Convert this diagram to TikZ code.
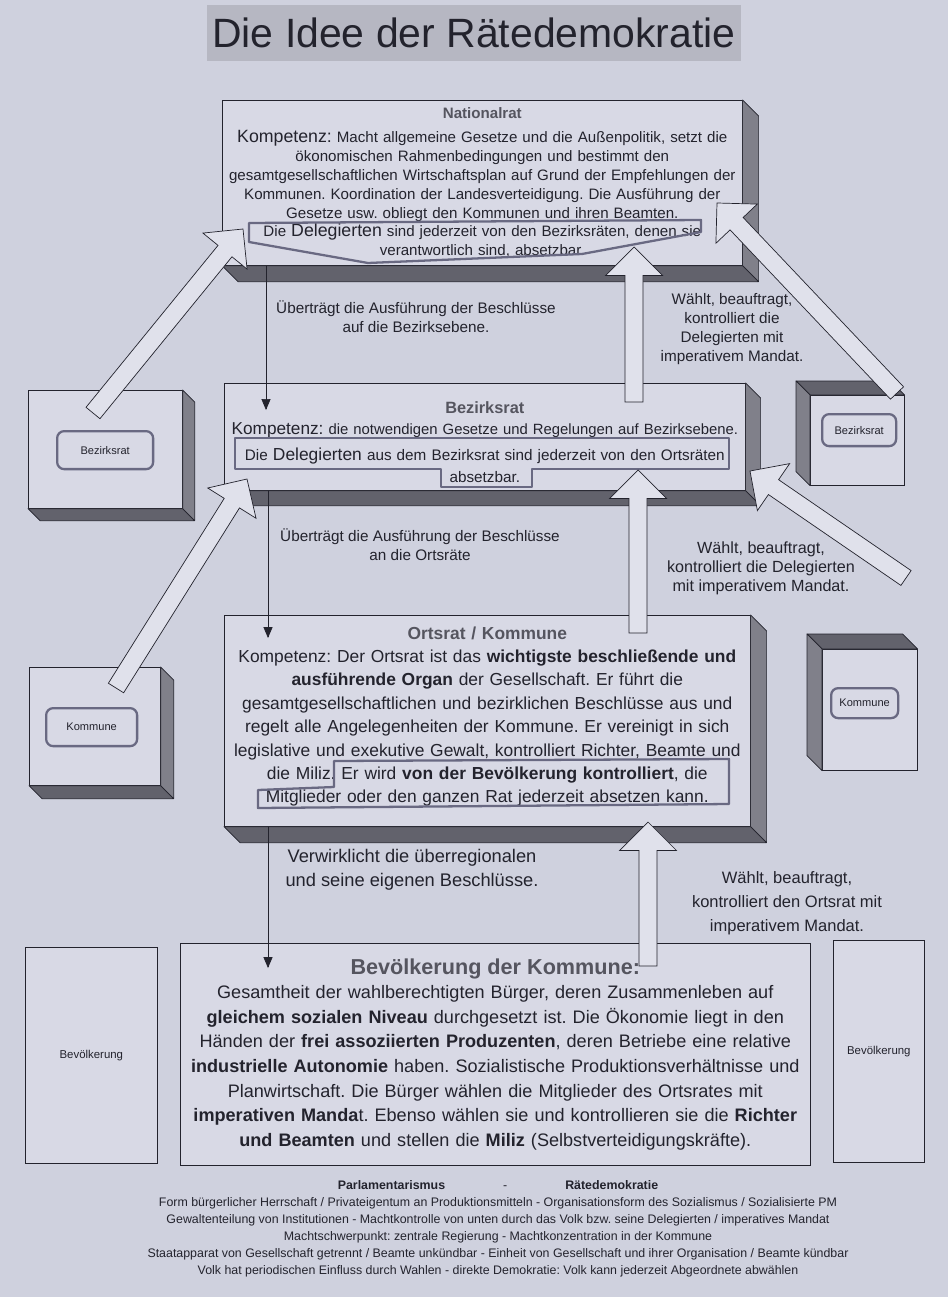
\documentclass[tikz,border=0pt]{standalone}
\usepackage{fontspec}
\setmainfont{Liberation Sans}
\usetikzlibrary{arrows, positioning, calc}

\definecolor{paper}{RGB}{207,209,222}
\definecolor{front}{RGB}{216,217,229}
\definecolor{arrowfill}{RGB}{224,225,235}
\definecolor{sideface}{RGB}{128,128,138}
\definecolor{floorface}{RGB}{98,98,108}
\definecolor{ink}{RGB}{35,35,45}
\definecolor{headgray}{RGB}{85,85,95}
\definecolor{frameline}{RGB}{105,105,130}
\definecolor{titlebg}{RGB}{182,183,194}

% 3D faces of the boxes
\newcommand{\depthdown}[2]{%
  \draw[faceR] (#1.north east) -- ++(#2,#2) -- ($(#1.south east)+(#2,#2)$) -- (#1.south east) -- cycle;
  \draw[faceB] (#1.south west) -- ++(#2,#2) -- ($(#1.south east)+(#2,#2)$) -- (#1.south east) -- cycle;}
\newcommand{\depthup}[2]{%
  \draw[faceB] (#1.north west) -- ++(-#2,-#2) -- ($(#1.north east)+(-#2,-#2)$) -- (#1.north east) -- cycle;
  \draw[faceR] (#1.north west) -- ++(-#2,-#2) -- ($(#1.south west)+(-#2,-#2)$) -- (#1.south west) -- cycle;}

\begin{document}
\frenchspacing
\begin{tikzpicture}[
    x=0.02cm, y=-0.02cm,
    council/.style={rectangle, draw=ink, fill=front, inner sep=0pt, anchor=north west, align=center, text=ink},
    sidebox/.style={rectangle, draw=ink, fill=front, inner sep=0pt, anchor=north west},
    chip/.style={rectangle, draw=frameline, line width=1.3pt, rounded corners=4pt, fill=front, inner sep=0pt, anchor=north west, text=ink, font=\fontsize{6.3}{7.5}\selectfont},
    faceR/.style={draw=ink, fill=sideface, line join=round},
    faceB/.style={draw=ink, fill=floorface, line join=round},
    note/.style={align=center, text=ink, font=\fontsize{8.7}{10.8}\selectfont},
    thinarrow/.style={->, >=triangle 45, draw=ink},
    highlight/.style={draw=frameline, line width=1.3pt, line join=round},
    bigarrow/.style={draw=ink, fill=arrowfill, line join=miter, to path={
        ($(\tikztostart)!0.18cm!-90:(\tikztotarget)$)
        -- ($(\tikztotarget)!0.57cm!(\tikztostart)!0.18cm!90:(\tikztostart)$)
        -- ($(\tikztotarget)!0.57cm!(\tikztostart)!0.57cm!90:(\tikztostart)$)
        -- (\tikztotarget)
        -- ($(\tikztotarget)!0.57cm!(\tikztostart)!0.57cm!-90:(\tikztostart)$)
        -- ($(\tikztotarget)!0.57cm!(\tikztostart)!0.18cm!-90:(\tikztostart)$)
        -- ($(\tikztostart)!0.18cm!90:(\tikztotarget)$) -- cycle}}
]

\useasboundingbox (0,0) rectangle (948,1297);
\fill[paper] (0,0) rectangle (948,1297);

% Title
\node[fill=titlebg, minimum width=10.7cm, minimum height=1.12cm, inner sep=0pt, text=ink, font=\fontsize{23.3}{26}\selectfont] (title) at (474,33) {Die Idee der Rätedemokratie};

% Nationalrat
\node[council, minimum width=10.4cm, minimum height=3.3cm, text width=10.4cm, font=\fontsize{8.6}{10.7}\selectfont] (nat) at (222,100) {%
  {\bfseries\color{headgray}Nationalrat}\\[3pt]
  {\fontsize{10.1}{10.7}\selectfont Kompetenz:} Macht allgemeine Gesetze und die Außenpolitik, setzt die\\
  ökonomischen Rahmenbedingungen und bestimmt den\\
  gesamtgesellschaftlichen Wirtschaftsplan auf Grund der Empfehlungen der\\
  Kommunen. Koordination der Landesverteidigung. Die Ausführung der\\
  Gesetze usw. obliegt den Kommunen und ihren Beamten.\\
  Die {\fontsize{10.1}{10.7}\selectfont Delegierten} sind jederzeit von den Bezirksräten, denen sie\\
  verantwortlich sind, absetzbar.};
\depthdown{nat}{16}

% Bezirksrat
\node[council, minimum width=10.42cm, minimum height=2.14cm, text width=10.42cm, font=\fontsize{8.7}{12.2}\selectfont] (bez) at (224,383) {%
  \rule{0pt}{12.5pt}{\bfseries\color{headgray}\fontsize{9.3}{12.2}\selectfont Bezirksrat}\\
  {\fontsize{9.8}{12.2}\selectfont Kompetenz:} {\fontsize{8.45}{12.2}\selectfont die notwendigen Gesetze und Regelungen auf Bezirksebene.}\\[2.5pt]
  Die {\fontsize{9.9}{12.2}\selectfont Delegierten} aus dem Bezirksrat sind jederzeit von den Ortsräten\\
  absetzbar.};
\depthdown{bez}{15}

% Ortsrat / Kommune
\node[council, minimum width=10.52cm, minimum height=4.22cm, text width=10.52cm, font=\fontsize{9.9}{13.3}\selectfont] (ort) at (224,615) {%
  {\bfseries\color{headgray}Ortsrat / Kommune}\\
  Kompetenz: Der Ortsrat ist das \textbf{wichtigste beschließende und}\\
  \textbf{ausführende Organ} der Gesellschaft. Er führt die\\
  gesamtgesellschaftlichen und bezirklichen Beschlüsse aus und\\
  regelt alle Angelegenheiten der Kommune. Er vereinigt in sich\\
  legislative und exekutive Gewalt, kontrolliert Richter, Beamte und\\
  die Miliz. Er wird \textbf{von der Bevölkerung kontrolliert}, die\\
  Mitglieder oder den ganzen Rat jederzeit absetzen kann.\rule[-7pt]{0pt}{7pt}};
\depthdown{ort}{16}

% Bevoelkerung der Kommune
\node[council, minimum width=12.6cm, minimum height=4.44cm, text width=12.6cm, font=\fontsize{10.3}{14}\selectfont] (bev) at (180,943) {%
  {\bfseries\color{headgray}\fontsize{12.3}{15}\selectfont Bevölkerung der Kommune:}\\
  Gesamtheit der wahlberechtigten Bürger, deren Zusammenleben auf\\
  \textbf{gleichem sozialen Niveau} durchgesetzt ist. Die Ökonomie liegt in den\\
  Händen der \textbf{frei assoziierten Produzenten}, deren Betriebe eine relative\\
  \textbf{industrielle Autonomie} haben. Sozialistische Produktionsverhältnisse und\\
  Planwirtschaft. Die Bürger wählen die Mitglieder des Ortsrates mit\\
  \textbf{imperativen Manda}t. Ebenso wählen sie und kontrollieren sie die \textbf{Richter}\\
  \textbf{und Beamten} und stellen die \textbf{Miliz} (Selbstverteidigungskräfte).};

% Side boxes
\node[sidebox, minimum width=3.08cm, minimum height=2.36cm] (bzL) at (28,390) {};
\depthdown{bzL}{12}
\node[chip, minimum width=1.92cm, minimum height=0.76cm] (bzL-tag) at (56,430) {Bezirksrat};

\node[sidebox, minimum width=1.88cm, minimum height=1.8cm] (bzR) at (810,395) {};
\depthup{bzR}{14}
\node[chip, minimum width=1.48cm, minimum height=0.64cm] (bzR-tag) at (821,413) {Bezirksrat};

\node[sidebox, minimum width=2.62cm, minimum height=2.36cm] (komL) at (29,667) {};
\depthdown{komL}{13}
\node[chip, minimum width=1.82cm, minimum height=0.76cm] (komL-tag) at (45,707) {Kommune};

\node[sidebox, minimum width=1.9cm, minimum height=2.42cm] (komR) at (822,649) {};
\depthup{komR}{15}
\node[chip, minimum width=1.34cm, minimum height=0.6cm] (komR-tag) at (830,687) {Kommune};

\node[sidebox, minimum width=2.64cm, minimum height=4.32cm, font=\fontsize{6.5}{8}\selectfont, text=ink] (bevL) at (25,947) {Bevölkerung};
\node[sidebox, minimum width=1.82cm, minimum height=4.44cm, font=\fontsize{6.5}{8}\selectfont, text=ink] (bevR) at (833,940) {Bevölkerung};

% Highlight frames
\draw[highlight] (249,223) -- (701,220) -- (701,232) -- (582,254) -- (368,263) -- (249,242) -- cycle;
\draw[highlight] (235,438) -- (729,438) -- (729,469) -- (532,469) -- (532,487) -- (441,487) -- (441,469) -- (235,469) -- cycle;
\draw[highlight] (334,761) -- (729,759) -- (729,804) -- (258,808) -- (258,790) -- (334,787) -- cycle;

% Block arrow ends
\coordinate (a1s) at (93,413);   \coordinate (a1t) at (243,229);
\coordinate (a2s) at (897,393);  \coordinate (a2t) at (717,203);
\coordinate (a3s) at (116,688);  \coordinate (a3t) at (247,479);
\coordinate (a4s) at (906,578);  \coordinate (a4t) at (750,471);
\coordinate (v1s) at (634,402);  \coordinate (v1t) at (634,247);
\coordinate (v2s) at (638,633);  \coordinate (v2t) at (638,470);
\coordinate (v3s) at (648,966);  \coordinate (v3t) at (648,822);

% Block arrows
\draw[bigarrow] (a1s) to (a1t);
\draw[bigarrow] (a2s) to (a2t);
\draw[bigarrow] (a3s) to (a3t);
\draw[bigarrow] (a4s) to (a4t);
\draw[bigarrow] (v1s) to (v1t);
\draw[bigarrow] (v2s) to (v2t);
\draw[bigarrow] (v3s) to (v3t);

% Thin arrows down
\coordinate (t1) at (266,410);
\coordinate (t2) at (268,638);
\coordinate (t3) at (268,968);
\draw[thinarrow] (nat.south -| t1) -- (t1);
\draw[thinarrow] (bez.south -| t2) -- (t2);
\draw[thinarrow] (ort.south -| t3) -- (t3);

% Labels
\node[note] (l1) at (416,317) {Überträgt die Ausführung der Beschlüsse\\auf die Bezirksebene.};
\node[note] (l2) at (732,329) {Wählt, beauftragt,\\kontrolliert die\\Delegierten mit\\imperativem Mandat.};
\node[note] (l3) at (420,545) {Überträgt die Ausführung der Beschlüsse\\an die Ortsräte};
\node[note, font=\fontsize{9.2}{10.8}\selectfont] (l4) at (761,568) {Wählt, beauftragt,\\kontrolliert die Delegierten\\mit imperativem Mandat.};
\node[note, font=\fontsize{10.4}{13.8}\selectfont] (l5) at (412,870) {Verwirklicht die überregionalen\\und seine eigenen Beschlüsse.};
\node[note, font=\fontsize{9.4}{13.6}\selectfont] (l6) at (787,903) {Wählt, beauftragt,\\kontrolliert den Ortsrat mit\\imperativem Mandat.};

% Legend
\node[align=center, text=ink, font=\fontsize{7.05}{9.7}\selectfont] (legend) at (498,1229) {%
  \textbf{Parlamentarismus}\hspace{33pt}-\hspace{33pt}\textbf{Rätedemokratie}\\
  Form bürgerlicher Herrschaft / Privateigentum an Produktionsmitteln - Organisationsform des Sozialismus / Sozialisierte PM\\
  Gewaltenteilung von Institutionen - Machtkontrolle von unten durch das Volk bzw. seine Delegierten / imperatives Mandat\\
  Machtschwerpunkt: zentrale Regierung - Machtkonzentration in der Kommune\\
  Staatapparat von Gesellschaft getrennt / Beamte unkündbar - Einheit von Gesellschaft und ihrer Organisation / Beamte kündbar\\
  Volk hat periodischen Einfluss durch Wahlen - direkte Demokratie: Volk kann jederzeit Abgeordnete abwählen};

\end{tikzpicture}
\end{document}
